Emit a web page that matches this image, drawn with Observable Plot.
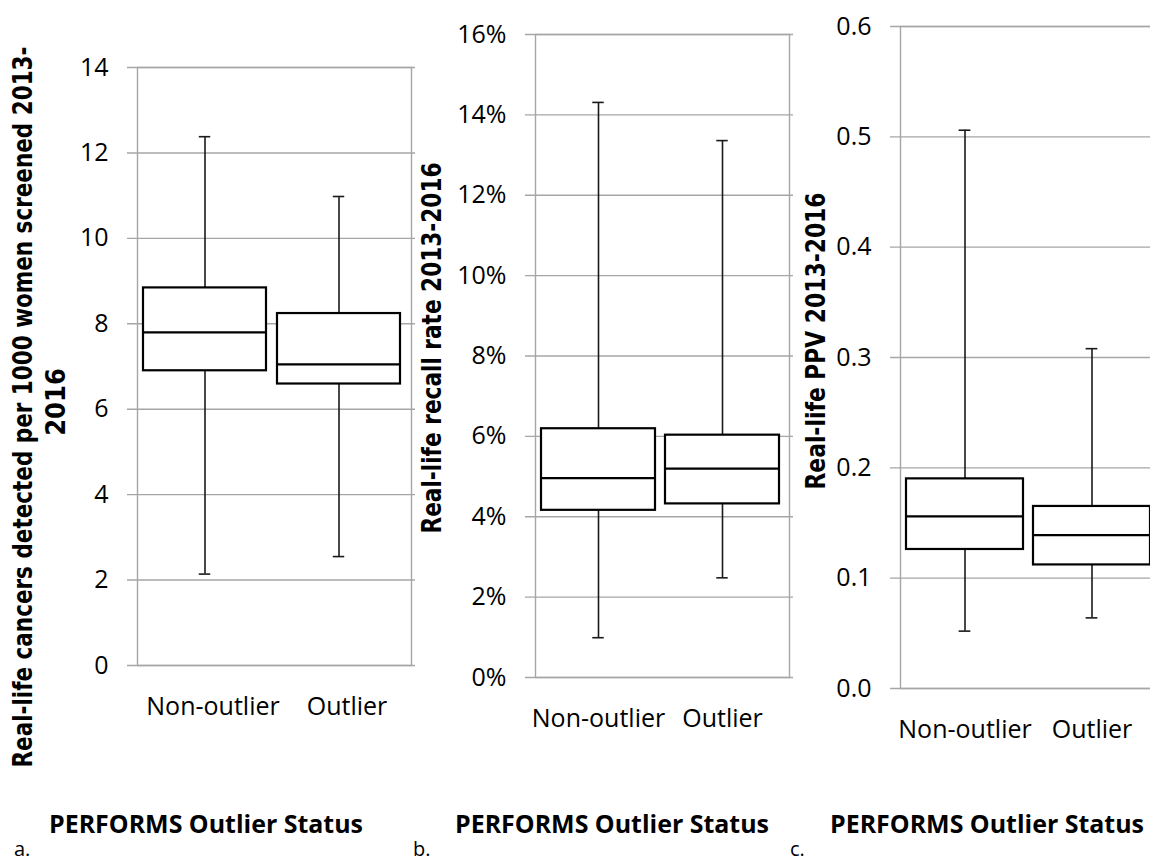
<!DOCTYPE html>
<html><head><meta charset="utf-8">
<script src="https://cdn.jsdelivr.net/npm/d3@7"></script>
<script src="https://cdn.jsdelivr.net/npm/@observablehq/plot@0.6"></script>
<style>
html,body{margin:0;padding:0;background:#fff;overflow:hidden;}
#wrap{position:relative;width:1150px;height:863px;overflow:hidden;background:#fff;}
.panel{position:absolute;top:0;}
#overlay{position:absolute;left:0;top:0;pointer-events:none;}
</style></head><body><div id="wrap"></div>
<script>
// ---------- data ----------
const categories = ["Non-outlier", "Outlier"];

// panel a: real-life cancers detected per 1000 women screened
const cancerMin    = [2.14, 2.55];
const cancerQ1     = [6.90, 6.59];
const cancerMedian = [7.80, 7.05];
const cancerQ3     = [8.84, 8.24];
const cancerMax    = [12.38, 10.98];
const cancerTicks  = [0, 2, 4, 6, 8, 10, 12, 14];
const cancerTickLabels = ["0", "2", "4", "6", "8", "10", "12", "14"];

// panel b: real-life recall rate
const recallMin    = [0.0099, 0.0248];
const recallQ1     = [0.0416, 0.0432];
const recallMedian = [0.0496, 0.0520];
const recallQ3     = [0.0619, 0.0603];
const recallMax    = [0.1431, 0.1336];
const recallTicks  = [0, 0.02, 0.04, 0.06, 0.08, 0.10, 0.12, 0.14, 0.16];
const recallTickLabels = ["0%", "2%", "4%", "6%", "8%", "10%", "12%", "14%", "16%"];

// panel c: real-life PPV
const ppvMin    = [0.052, 0.064];
const ppvQ1     = [0.126, 0.112];
const ppvMedian = [0.156, 0.139];
const ppvQ3     = [0.190, 0.165];
const ppvMax    = [0.506, 0.308];
const ppvTicks  = [0, 0.1, 0.2, 0.3, 0.4, 0.5, 0.6];
const ppvTickLabels = ["0.0", "0.1", "0.2", "0.3", "0.4", "0.5", "0.6"];

const yTitles = [
  ["Real-life cancers detected per 1000 women screened 2013-", "2016"],
  ["Real-life recall rate 2013-2016"],
  ["Real-life PPV 2013-2016"]
];
const xTitle = "PERFORMS Outlier Status";
const panelLetters = ["a.", "b.", "c."];

// ---------- layout ----------
const rowsOf = (mn, q1, md, q3, mx) =>
  categories.map((c, i) => ({cat: c, min: mn[i], q1: q1[i], median: md[i], q3: q3[i], max: mx[i]}));

const panels = [
  {left: 0,   width: 420, height: 760, ml: 137, mr: 9,  mt: 67, mb: 95, dx: 8,
   ticks: cancerTicks, labels: cancerTickLabels,
   rows: rowsOf(cancerMin, cancerQ1, cancerMedian, cancerQ3, cancerMax)},
  {left: 420, width: 380, height: 760, ml: 115, mr: 11, mt: 34, mb: 83, dx: 0,
   ticks: recallTicks, labels: recallTickLabels,
   rows: rowsOf(recallMin, recallQ1, recallMedian, recallQ3, recallMax)},
  {left: 790, width: 380, height: 760, ml: 110, mr: 10, mt: 26, mb: 72, dx: 0,
   ticks: ppvTicks, labels: ppvTickLabels,
   rows: rowsOf(ppvMin, ppvQ1, ppvMedian, ppvQ3, ppvMax)}
];

const wrap = document.getElementById("wrap");
const PI = 0.08, PO = 0.06;
const grid = "#a6a6a6";

panels.forEach(p => {
  const W = p.width - p.ml - p.mr;
  const step = W / (categories.length - PI + 2 * PO);
  const bw = step * (1 - PI);
  const capInset = (bw - 12) / 2;
  const fmt = d => p.labels[p.ticks.indexOf(d)];
  const chart = Plot.plot({
    width: p.width, height: p.height,
    marginLeft: p.ml, marginRight: p.mr, marginTop: p.mt, marginBottom: p.mb,
    style: {fontFamily: "'Open Sans', sans-serif", fontSize: "25px", color: "#000", background: "transparent", overflow: "visible"},
    x: {domain: categories, paddingInner: PI, paddingOuter: PO, align: 0.35, axis: null},
    y: {domain: [p.ticks[0], p.ticks[p.ticks.length - 1]], axis: null},
    marks: [
      Plot.ruleY(p.ticks, {y: d => d, stroke: grid, strokeWidth: 1.4, insetLeft: -10, insetRight: -4}),
      Plot.frame({stroke: grid, strokeWidth: 1.4}),
      Plot.axisY(p.ticks, {y: d => d, tickSize: 0, tickPadding: 29, tickFormat: fmt, fontSize: 25, label: null}),
      Plot.axisX({tickSize: 0, tickPadding: 32, fontSize: 25, label: null, dx: p.dx}),
      Plot.ruleX(p.rows, {x: "cat", y1: "min", y2: "max", stroke: "#1a1a1a", strokeWidth: 1.6}),
      Plot.tickY(p.rows, {x: "cat", y: "min", insetLeft: capInset, insetRight: capInset, stroke: "#1a1a1a", strokeWidth: 1.6}),
      Plot.tickY(p.rows, {x: "cat", y: "max", insetLeft: capInset, insetRight: capInset, stroke: "#1a1a1a", strokeWidth: 1.6}),
      Plot.barY(p.rows, {x: "cat", y1: "q1", y2: "q3", fill: "white", stroke: "#000", strokeWidth: 2.2}),
      Plot.tickY(p.rows, {x: "cat", y: "median", stroke: "#000", strokeWidth: 2.2})
    ]
  });
  chart.classList.add("panel");
  chart.style.left = p.left + "px";
  wrap.appendChild(chart);
});

// ---------- titles overlay ----------
const svg = d3.select(wrap).append("svg").attr("id", "overlay")
  .attr("width", 1150).attr("height", 863);

const titleFont = "'Liberation Sans Narrow','DejaVu Sans Condensed','Open Sans',sans-serif";
const yTitlePos = [
  [{x: 32, y: 407, len: 721}, {x: 65, y: 402, len: null}],
  [{x: 441, y: 348, len: 371}],
  [{x: 825, y: 341, len: 297}]
];
yTitles.forEach((lines, i) => {
  lines.forEach((t, j) => {
    const pos = yTitlePos[i][j];
    const el = svg.append("text")
      .attr("transform", `translate(${pos.x},${pos.y}) rotate(-90)`)
      .attr("text-anchor", "middle")
      .attr("font-family", titleFont)
      .attr("font-weight", "bold")
      .attr("font-size", 27)
      .attr("fill", "#000")
      .text(t);
    if (pos.len) el.attr("textLength", pos.len).attr("lengthAdjust", "spacingAndGlyphs");
  });
});

const xTitleX = [206, 612, 987];
xTitleX.forEach(x => {
  svg.append("text")
    .attr("x", x).attr("y", 833)
    .attr("text-anchor", "middle")
    .attr("font-family", "'Open Sans',sans-serif")
    .attr("font-weight", "bold")
    .attr("font-size", 25)
    .attr("textLength", 314).attr("lengthAdjust", "spacingAndGlyphs")
    .attr("fill", "#000")
    .text(xTitle);
});

const letterX = [14, 413, 790];
panelLetters.forEach((t, i) => {
  svg.append("text")
    .attr("x", letterX[i]).attr("y", 856)
    .attr("font-family", "'Open Sans',sans-serif")
    .attr("font-size", 20)
    .attr("fill", "#000")
    .text(t);
});
</script></body></html>
